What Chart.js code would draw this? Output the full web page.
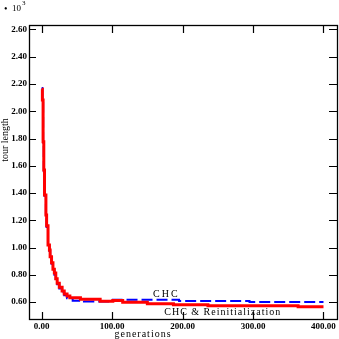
<!DOCTYPE html>
<html>
<head>
<meta charset="utf-8">
<script src="https://cdn.jsdelivr.net/npm/chart.js@4/dist/chart.umd.min.js"></script>
<style>
html,body{margin:0;padding:0;background:#fff;}
canvas{display:block;}
</style>
</head>
<body>
<canvas id="c" width="339" height="339"></canvas>
<script>
// ---- data ----
const xTickValues = [0, 100, 200, 300, 400];
const yTickValues = [0.6, 0.8, 1.0, 1.2, 1.4, 1.6, 1.8, 2.0, 2.2, 2.4, 2.6];

const reinitGenerations = [0, 1, 2, 3, 4, 6, 7, 9, 11, 12, 14, 16, 18, 20, 22, 25, 29, 32, 36, 40, 55, 83, 101, 115, 150, 187, 236, 364, 400];
const reinitLengths = [2.161, 2.083, 1.776, 1.569, 1.385, 1.239, 1.16, 1.018, 0.982, 0.932, 0.888, 0.84, 0.813, 0.771, 0.737, 0.708, 0.681, 0.659, 0.644, 0.632, 0.621, 0.605, 0.612, 0.598, 0.588, 0.580, 0.573, 0.566, 0.566];

const chcGenerations = [0, 1, 2, 3, 4, 6, 7, 9, 11, 12, 14, 16, 18, 20, 22, 25, 29, 32, 36, 44, 60, 101, 195, 295, 400];
const chcLengths = [2.17, 2.08, 1.77, 1.56, 1.38, 1.23, 1.15, 1.01, 0.975, 0.925, 0.88, 0.83, 0.80, 0.76, 0.73, 0.70, 0.672, 0.65, 0.627, 0.61, 0.604, 0.617, 0.607, 0.600, 0.600];

const seriesNames = ['CHC & Reinitialization', 'CHC'];
const xTitle = 'generations';
const yTitle = 'tour length';

const toPoints = (xs, ys) => xs.map((x, i) => ({x: x, y: ys[i]}));

const SERIF = '"Liberation Serif", "DejaVu Serif", serif';

const decorations = {
  id: 'decorations',
  afterDatasetsDraw(chart) {
    const ctx = chart.ctx;
    const a = chart.chartArea;
    const xs = chart.scales.x, ys = chart.scales.y;
    ctx.save();
    ctx.strokeStyle = '#000';
    ctx.lineWidth = 1.3;
    ctx.strokeRect(a.left + 0.5, a.top + 0.5, a.right - a.left - 1, a.bottom - a.top - 1);
    ctx.lineWidth = 1.2;
    ctx.beginPath();
    xTickValues.forEach(v => {
      const px = Math.round(xs.getPixelForValue(v)) + 0.5;
      ctx.moveTo(px, a.bottom); ctx.lineTo(px, a.bottom - 8);
      ctx.moveTo(px, a.top); ctx.lineTo(px, a.top + 8);
    });
    yTickValues.forEach(v => {
      const py = Math.round(ys.getPixelForValue(v)) + 0.5;
      ctx.moveTo(a.left, py); ctx.lineTo(a.left + 7, py);
      ctx.moveTo(a.right, py); ctx.lineTo(a.right - 9, py);
    });
    ctx.stroke();

    ctx.fillStyle = '#000';
    ctx.textAlign = 'center';
    ctx.textBaseline = 'middle';
    // series annotations
    ctx.font = '10px ' + SERIF;
    ctx.letterSpacing = '2px';
    ctx.fillText(seriesNames[1], xs.getPixelForValue(177), ys.getPixelForValue(0.659));
    ctx.letterSpacing = '1px';
    ctx.fillText(seriesNames[0], xs.getPixelForValue(257), ys.getPixelForValue(0.527));
    // x title
    ctx.fillText(xTitle, 143, 334);
    // y title
    ctx.letterSpacing = '0px';
    ctx.save();
    ctx.translate(5, 140);
    ctx.rotate(-Math.PI / 2);
    ctx.fillText(yTitle, 0, 0);
    ctx.restore();
    // multiplier
    ctx.textAlign = 'left';
    ctx.font = '10px ' + SERIF;
    ctx.fillText('\u2022', 4, 9);
    ctx.font = '9px ' + SERIF;
    ctx.fillText('10', 12, 9);
    ctx.font = '7px ' + SERIF;
    ctx.fillText('3', 22, 3);
    ctx.restore();
  }
};

new Chart(document.getElementById('c'), {
  type: 'line',
  data: {
    datasets: [
      {
        label: seriesNames[0],
        data: toPoints(reinitGenerations, reinitLengths),
        borderColor: '#ff0000',
        borderWidth: 3,
        stepped: 'before',
        pointRadius: 0,
        fill: false,
        order: 0
      },
      {
        label: seriesNames[1],
        data: toPoints(chcGenerations, chcLengths),
        borderColor: '#0000ff',
        borderWidth: 2,
        borderDash: [11, 4],
        stepped: 'before',
        pointRadius: 0,
        fill: false,
        order: 1
      }
    ]
  },
  options: {
    responsive: false,
    devicePixelRatio: 1,
    animation: false,
    layout: { padding: { top: 25, right: 1, left: 0, bottom: 0 } },
    plugins: { legend: { display: false }, tooltip: { enabled: false } },
    scales: {
      x: {
        type: 'linear',
        min: -18,
        max: 420.6,
        afterBuildTicks: s => { s.ticks = xTickValues.map(v => ({ value: v })); },
        afterFit: s => { s.height = 19; },
        grid: { display: false, drawTicks: false },
        border: { display: false },
        ticks: {
          callback: v => Number(v).toFixed(2),
          padding: 1,
          maxRotation: 0,
          autoSkip: false,
          color: '#000',
          font: { family: SERIF, size: 9, weight: 'bold' }
        }
      },
      y: {
        type: 'linear',
        min: 0.468,
        max: 2.633,
        afterBuildTicks: s => { s.ticks = yTickValues.map(v => ({ value: v })); },
        afterFit: s => { s.width = 29; },
        grid: { display: false, drawTicks: false },
        border: { display: false },
        ticks: {
          callback: v => Number(v).toFixed(2),
          padding: 2,
          autoSkip: false,
          color: '#000',
          font: { family: SERIF, size: 9, weight: 'bold' }
        }
      }
    }
  },
  plugins: [decorations]
});
</script>
</body>
</html>
